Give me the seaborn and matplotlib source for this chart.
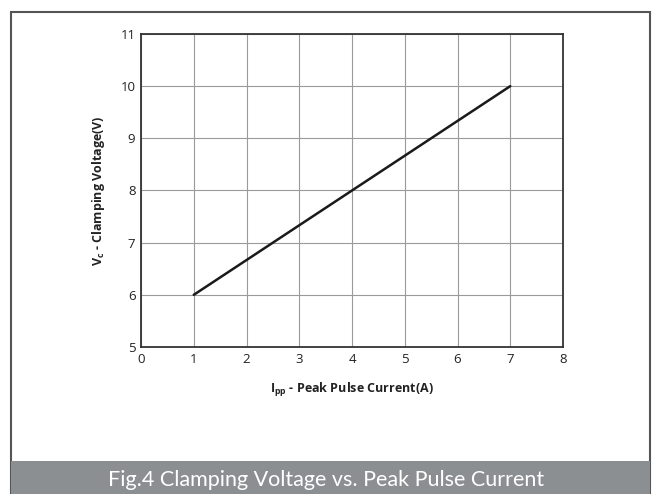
import numpy as np
import pandas as pd
import seaborn as sns
from matplotlib import pyplot as plt
from matplotlib.patches import Rectangle

# curve
current_a = [1, 7]
voltage_v = [6, 10]

x_ticks = [0, 1, 2, 3, 4, 5, 6, 7, 8]
y_ticks = [5, 6, 7, 8, 9, 10, 11]

title = 'Fig.4 Clamping Voltage vs. Peak Pulse Current'
x_label = r'$\mathbf{I_{pp}}$ - Peak Pulse Current(A)'
y_label = r'$\mathbf{V_{c}}$ - Clamping Voltage(V)'

sns.set_theme(style='white')
plt.rcParams['font.family'] = ['Open Sans', 'DejaVu Sans']
plt.rcParams['mathtext.fontset'] = 'custom'
plt.rcParams['mathtext.bf'] = 'Open Sans:bold'
plt.rcParams['mathtext.rm'] = 'Open Sans'

df = pd.DataFrame({'I': current_a, 'V': voltage_v})

fig = plt.figure(figsize=(6.52, 4.94), dpi=100)
ax = fig.add_axes([0.2163, 0.2976, 0.6472, 0.6336])

sns.lineplot(data=df, x='I', y='V', ax=ax, color='#1a1a1a', linewidth=1.8)

ax.set_xlim(0, 8)
ax.set_ylim(5, 11)
ax.set_xticks(x_ticks)
ax.set_yticks(y_ticks)
ax.grid(True, color='#9a9a9a', linewidth=0.8)
ax.tick_params(axis='both', length=0, pad=4, labelsize=9.5, colors='#222222')
for s in ax.spines.values():
    s.set_color('#333333')
    s.set_linewidth(1.3)

ax.set_xlabel(x_label, fontsize=9, fontweight='bold', color='#222222', labelpad=11)
ax.set_ylabel(y_label, fontsize=9, fontweight='bold', color='#222222', labelpad=10)

# outer frame and caption banner
fig.patches.append(Rectangle((11 / 652, 0), 639 / 652, 482 / 494, transform=fig.transFigure,
                             fill=False, edgecolor='#555555', linewidth=1.5))
fig.patches.append(Rectangle((11 / 652, 0), 639 / 652, 33 / 494, transform=fig.transFigure,
                             facecolor='#8c8f92', edgecolor='none'))
fig.text(0.5, 14 / 494, title, ha='center', va='center', fontsize=15.5,
         color='white', family=['Lato', 'DejaVu Sans'])

plt.savefig('out.png', dpi=100)
